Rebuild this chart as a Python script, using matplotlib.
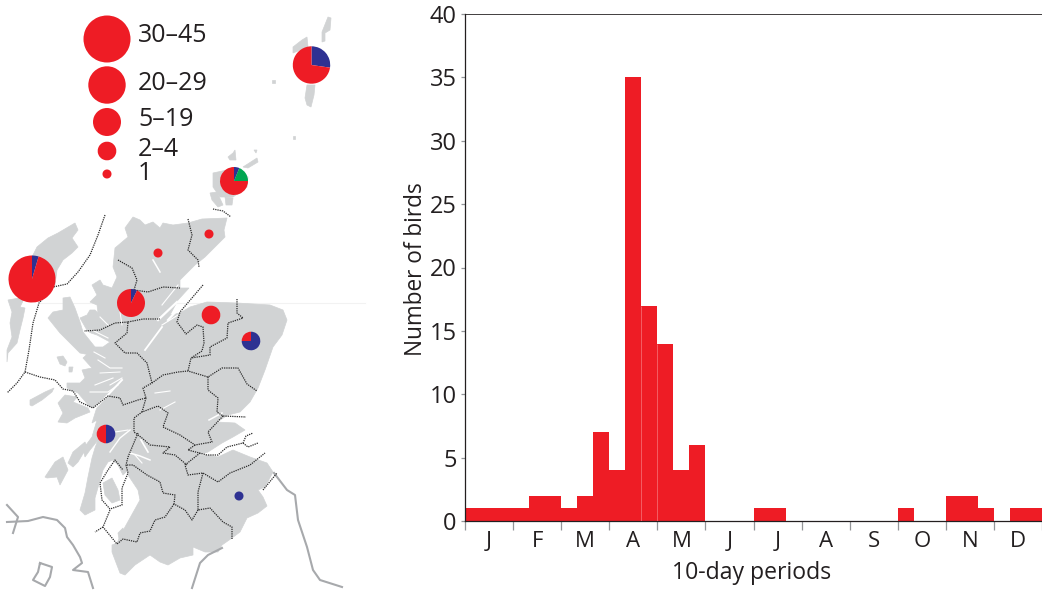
import matplotlib
matplotlib.use("Agg")
import matplotlib.pyplot as plt
import numpy as np
from matplotlib.patches import Polygon

plt.rcParams['font.family'] = ['Open Sans', 'DejaVu Sans']

# ---- chart data
bird_counts = [1,1,1,1,2,2,1,2,7,4,35,17,14,4,6,0,0,0,1,1,0,0,0,0,0,0,0,1,0,0,2,2,1,0,1,1]
month_labels = ['J','F','M','A','M','J','J','A','S','O','N','D']
y_ticks = [0,5,10,15,20,25,30,35,40]

legend_labels = ['30–45','20–29','5–19','2–4','1']
legend_radii = [23.5,18.7,14,9.3,4.5]
legend_y = [39,85,122,151,174]
legend_text_y = [35,83,120,149,173]

# pies: clockwise order blue, green, red from 12 o'clock
pie_x = [32,311.5,234,131,211,251,106,158,209,239]
pie_y = [279,65,181,303,315,341,434,253,234,496]
pie_r = [23.5,18.7,14,14,9.3,9.3,9.3,4.5,4.5,4.5]
pie_blue = [2,6,1,1,0,3,1,0,0,1]
pie_green = [0,0,3,0,0,0,0,0,0,0]
pie_red = [42,16,12,13,3,1,1,1,1,0]

RED, BLUE, GREEN, GREY = '#EE1C25', '#2E3192', '#00A651', '#D1D3D4'

# ---- map outlines, in pixels
mainland = [(133,217),(140,220),(145,225),(153,222),(160,228),(163,223),(173,225),(188,223),(202,219),(227,218),(224,230),(225,237),(215,247),(205,257),(195,265),(180,280),(180,288),(189,288),(178,300),(170,315),(180,313),(190,307),(207,302),(237,303),(270,305),(283,310),(287,320),(282,335),(273,347),(265,370),(258,388),(250,402),(240,412),(228,415),(217,422),(235,423),(245,430),(233,437),(222,443),(208,452),(196,456),(207,455),(218,457),(233,450),(250,457),(267,463),(273,472),(265,487),(258,490),(263,497),(267,506),(258,513),(247,518),(240,532),(232,538),(222,545),(218,552),(205,552),(193,547),(193,555),(180,558),(168,565),(160,562),(150,555),(135,565),(125,575),(120,573),(112,552),(112,545),(117,543),(125,527),(140,500),(138,490),(128,475),(128,470),(123,475),(118,465),(113,460),(108,462),(103,470),(95,498),(95,510),(85,515),(80,510),(85,493),(88,477),(92,458),(95,448),(98,440),(90,450),(85,457),(83,449),(92,437),(97,420),(92,423),(97,407),(90,407),(78,393),(67,388),(67,383),(80,383),(85,378),(82,370),(92,368),(83,358),(95,347),(103,347),(110,342),(97,335),(88,332),(80,318),(87,315),(90,310),(95,310),(98,313),(97,305),(90,302),(97,295),(92,285),(100,280),(103,285),(112,288),(117,277),(113,267),(115,248),(128,237),(125,228)]
hebrides = [
    [(75,223),(78,230),(72,238),(78,247),(72,253),(63,260),(57,270),(55,285),(40,300),(20,295),(12,275),(33,255),(37,247),(48,238),(58,233)],
    [(8,300),(25,297),(20,307),(25,308),(23,318),(20,330),(17,343),(8,353),(7,362),(7,350),(12,337),(10,323),(12,312)],
    [(63,298),(70,297),(75,308),(80,322),(83,332),(95,347),(90,355),(80,353),(72,345),(60,333),(48,318),(53,312),(63,310)],
    [(58,403),(65,395),(77,397),(73,402),(88,408),(90,412),(75,418),(67,423),(58,422),(63,413),(60,407)],
    [(30,405),(30,400),(45,392),(54,388),(52,392),(42,400),(32,406)],
    [(57,357),(63,356),(67,362),(65,366),(60,364)],
    [(69,367),(73,367),(72,372),(69,372)],
    [(45,477),(55,462),(63,457),(68,470),(60,485),(57,477),(47,478)],
    [(68,463),(73,452),(85,442),(87,447),(78,462),(73,467)],
    [(103,483),(112,478),(118,490),(120,500),(112,503),(105,495)],
    [(118,533),(123,528),(125,535),(120,545)],
]
northern_isles = [
    [(293,47),(302,40),(307,37),(308,47),(293,53)],
    [(322,32),(328,17),(331,18),(330,30),(325,33),(325,41),(322,42)],
    [(307,85),(315,85),(314,95),(311,107),(307,105),(305,98)],
    [(272,80),(275,80),(275,83),(272,83)],
    [(293,136),(295,136),(295,139),(293,139)],
    [(228,157),(233,153),(235,150),(236,160),(230,160)],
    [(243,167),(257,158),(258,162),(248,168)],
    [(254,150),(257,150),(256,153)],
    [(213,173),(227,170),(240,170),(248,177),(247,187),(233,197),(220,197),(213,187)],
    [(210,193),(217,192),(223,205),(218,207),(212,200)],
    [(225,197),(233,198),(232,205),(226,205)],
]
sea_lochs = [
    ([(153,260),(160,272)],1.1), ([(145,350),(162,327)],1.3), ([(158,320),(177,302)],1.6),
    ([(168,320),(180,307)],1.6), ([(162,325),(178,315)],0.8),
    ([(110,385),(122,378)],0.8), ([(95,408),(105,398),(122,380)],1.4),
    ([(94,352),(105,358)],0.8), ([(92,330),(108,338)],0.8), ([(100,317),(108,325)],0.8),
    ([(85,330),(95,338),(102,345)],1.0), ([(98,360),(110,368),(122,368)],0.8),
    ([(100,373),(120,372)],0.7), ([(95,385),(113,378)],0.8), ([(90,392),(108,392),(118,385)],0.8),
    ([(155,393),(170,391)],0.8), ([(160,410),(175,402)],0.8), ([(162,305),(178,285)],0.8),
    ([(120,312),(122,325)],0.7), ([(130,453),(140,456),(150,460)],1.1), ([(141,440),(148,452)],1.2),
    ([(135,455),(142,463)],0.8), ([(115,432),(128,430)],0.8), ([(110,452),(120,438),(130,430)],1.0),
    ([(209,420),(222,413)],1.1),
]
borders = [
    [(105,215),(98,235),(90,255),(78,272),(67,284),(53,287),(39,303),(33,323),(29,350),(25,372),(17,383),(7,393)],
    [(25,372),(40,377),(55,380),(63,389),(73,391),(80,402),(93,408),(108,396),(120,398),(123,405),(138,400),(146,398),(143,388),(152,383),(163,375),(178,372),(188,371),(208,377),(222,368),(238,368),(247,384),(257,391)],
    [(152,383),(147,363),(137,353),(125,353),(115,343),(127,333),(128,322),(115,323),(100,330),(84,331)],
    [(128,322),(143,319),(160,319)],
    [(118,260),(132,268),(137,280),(134,290),(148,292),(163,287),(180,288)],
    [(188,219),(192,235),(188,250),(198,260),(199,267)],
    [(203,285),(180,312),(177,322),(186,334),(197,325),(203,327),(204,343),(202,351),(191,358),(188,371)],
    [(237,299),(237,313),(243,318),(228,323),(227,338),(210,347),(210,355),(191,358)],
    [(208,377),(208,390),(218,398),(217,412),(223,416),(246,417)],
    [(223,416),(208,432),(212,442),(195,445),(180,435),(163,427),(168,413),(158,406),(142,412),(134,418),(134,432),(142,438),(150,445),(170,447),(163,453),(175,455),(187,465)],
    [(146,398),(142,412)],
    [(195,445),(188,450),(207,455),(218,455),(227,447),(243,443),(246,436),(253,433)],
    [(243,443),(248,447),(258,443)],
    [(200,453),(185,465),(188,475),(203,473),(218,482),(230,473),(250,465),(265,453)],
    [(203,473),(198,492),(198,510),(210,508),(223,522),(232,527),(232,539)],
    [(198,510),(192,520),(185,510),(174,504),(175,495),(163,493),(160,482),(147,475),(133,465),(126,465),(128,473),(122,488),(122,505),(110,509),(102,500),(100,483),(108,470),(115,460),(123,470)],
    [(174,504),(165,517),(155,520),(150,531),(140,533),(137,542),(123,539),(117,544),(103,527),(110,510)],
    [(103,527),(95,532)],
    [(138,433),(128,457),(126,465)],
    [(263,490),(277,473)],
    [(213,209),(223,211),(231,217)],
]
england = [
    [(274,473),(287,490),(295,495),(298,520),(307,547),(313,570),(320,580),(342,587)],
    [(222,548),(208,555),(200,563),(192,588)],
    [(7,505),(18,517),(13,533)],
    [(7,522),(28,521),(43,517),(57,520),(65,528),(67,537),(73,545),(80,557),(82,563),(73,570),(88,572),(93,588)],
    [(40,563),(52,567),(50,577),(45,586),(33,580),(38,572),(40,563)],
]

W, H = 1042, 590
fig = plt.figure(figsize=(W/100, H/100), dpi=100)

# ---- map panel in pixel coordinates
ax = fig.add_axes([0,0,1,1])
ax.plot([40,365],[302.5,302.5],color='#F2F2F2',lw=0.8,zorder=0)
for poly in [mainland]+hebrides+northern_isles:
    ax.add_patch(Polygon(poly,closed=True,fc=GREY,ec=GREY,lw=0.5,zorder=1))
for line,lw in sea_lochs:
    p = np.array(line); ax.plot(p[:,0],p[:,1],color='white',lw=lw,zorder=2)
for line in england:
    p = np.array(line); ax.plot(p[:,0],p[:,1],color='#A7A9AC',lw=1.5,zorder=2)
for line in borders:
    p = np.array(line); ax.plot(p[:,0],p[:,1],color='#2A2A2A',lw=0.9,ls=(0,(1,0.8)),zorder=3)

for x,y,r,b,g,rd in zip(pie_x,pie_y,pie_r,pie_blue,pie_green,pie_red):
    v = [(a,c) for a,c in zip([b,g,rd],[BLUE,GREEN,RED]) if a>0]
    ax.pie([a for a,c in v],colors=[c for a,c in v],center=(x,y),radius=r,startangle=-90,
           counterclock=True,frame=True,wedgeprops=dict(lw=0,zorder=5))
for r,y,ty,lab in zip(legend_radii,legend_y,legend_text_y,legend_labels):
    ax.pie([1],colors=[RED],center=(107,y),radius=r,frame=True,wedgeprops=dict(lw=0,zorder=5))
    ax.text(138,ty,lab,fontsize=18,color='#231F20',va='center',ha='left')
ax.set_xlim(0,W); ax.set_ylim(H,0)
ax.set_aspect('auto')
ax.axis('off')

# ---- histogram
L,R,T,B = 465,1042,14,521
bx = fig.add_axes([L/W,1-B/H,(R-L)/W,(B-T)/H])
pos = np.arange(len(bird_counts))
bx.bar(pos,bird_counts,width=1,align='edge',color=RED,lw=0,zorder=2)
peak = int(np.argmax(bird_counts))
bx.vlines([pos[peak]+1,pos[peak]+2],0,[bird_counts[peak+1],bird_counts[peak+2]],color='#F4686E',lw=0.6,zorder=3)
bx.set_xlim(0,36); bx.set_ylim(0,40)
bx.set_yticks(y_ticks)
bx.set_xticks(np.arange(0,37,3))
bx.set_xticklabels([])
bx.set_xticks(np.arange(1.5,36,3),minor=True)
bx.set_xticklabels(month_labels,minor=True)
bx.tick_params(axis='x',which='major',length=6.5,width=0.9,color='#939598')
bx.tick_params(axis='x',which='minor',length=0,labelsize=16,pad=7,labelcolor='#231F20')
bx.tick_params(axis='y',length=3,width=0.9,color='#939598',labelsize=17,pad=3,labelcolor='#231F20')
bx.spines['right'].set_visible(False)
for s in ['left','bottom','top']:
    bx.spines[s].set_linewidth(0.9); bx.spines[s].set_color('#231F20')
bx.spines['top'].set_linewidth(0.6)
bx.patch.set_alpha(0)
fig.text(752/W,1-573/H,'10-day periods',fontsize=16.6,color='#231F20',ha='center',va='center')
fig.text(416/W,1-269.5/H,'Number of birds',fontsize=16.3,color='#231F20',ha='center',va='center',rotation=90)

fig.savefig('out.png',dpi=100)
